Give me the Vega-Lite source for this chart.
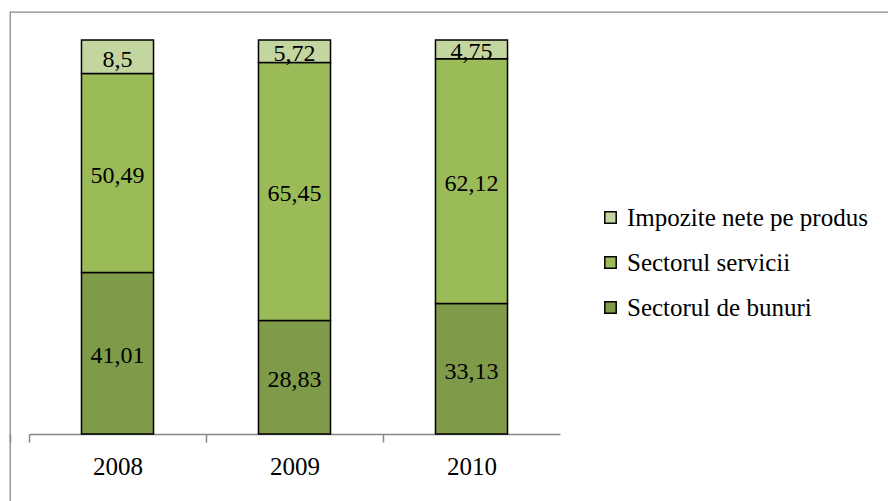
{
  "$schema": "https://vega.github.io/schema/vega-lite/v6.json",
  "autosize": {"type": "none"},
  "padding": {"left": 10, "top": 12, "right": -2, "bottom": -2},
  "width": 880,
  "height": 491,
  "background": "white",
  "config": {
    "view": {"stroke": "#898989", "strokeWidth": 1.3},
    "font": "Liberation Serif"
  },
  "data": {
    "values": [
      {"year": "2008", "category": "Sectorul de bunuri", "ord": 1, "value": 41.01, "label": "41,01"},
      {"year": "2008", "category": "Sectorul servicii", "ord": 2, "value": 50.49, "label": "50,49"},
      {"year": "2008", "category": "Impozite nete pe produs", "ord": 3, "value": 8.5, "label": "8,5"},
      {"year": "2009", "category": "Sectorul de bunuri", "ord": 1, "value": 28.83, "label": "28,83"},
      {"year": "2009", "category": "Sectorul servicii", "ord": 2, "value": 65.45, "label": "65,45"},
      {"year": "2009", "category": "Impozite nete pe produs", "ord": 3, "value": 5.72, "label": "5,72"},
      {"year": "2010", "category": "Sectorul de bunuri", "ord": 1, "value": 33.13, "label": "33,13"},
      {"year": "2010", "category": "Sectorul servicii", "ord": 2, "value": 62.12, "label": "62,12"},
      {"year": "2010", "category": "Impozite nete pe produs", "ord": 3, "value": 4.75, "label": "4,75"}
    ]
  },
  "transform": [
    {"stack": "value", "groupby": ["year"], "sort": [{"field": "ord", "order": "ascending"}], "as": ["v0", "v1"]},
    {"calculate": "(datum.v0 + datum.v1) / 2", "as": "mid"}
  ],
  "encoding": {
    "x": {
      "field": "year",
      "type": "nominal",
      "sort": ["2008", "2009", "2010"],
      "scale": {"range": [19, 550], "paddingInner": 0.593, "paddingOuter": 0.2965},
      "axis": {
        "title": null,
        "labelAngle": 0,
        "labelFont": "Liberation Serif",
        "labelFontSize": 25,
        "labelColor": "black",
        "labelPadding": 12,
        "ticks": true,
        "bandPosition": 0,
        "tickExtra": true,
        "tickOffset": -52.5,
        "labelOffset": 52.5,
        "tickSize": 8,
        "tickColor": "#868686",
        "tickWidth": 1.5,
        "domainColor": "#868686",
        "domainWidth": 1.5,
        "grid": false,
        "offset": -69
      }
    }
  },
  "layer": [
    {
      "mark": {"type": "bar", "stroke": "black", "strokeWidth": 1.5},
      "encoding": {
        "y": {"field": "v1", "type": "quantitative", "scale": {"domain": [0, 100], "range": [422, 28]}, "axis": null},
        "y2": {"field": "v0"},
        "color": {
          "field": "category",
          "type": "nominal",
          "scale": {
            "domain": ["Impozite nete pe produs", "Sectorul servicii", "Sectorul de bunuri"],
            "range": ["#c4d6a0", "#9bbb59", "#7f9a48"]
          },
          "legend": {
            "title": null,
            "orient": "none",
            "legendX": 588,
            "legendY": 193,
            "symbolType": "square",
            "symbolSize": 130,
            "symbolStrokeColor": "black",
            "symbolStrokeWidth": 1.5,
            "symbolOpacity": 1,
            "labelFont": "Liberation Serif",
            "labelFontSize": 25,
            "labelColor": "black",
            "labelOffset": 4,
            "rowPadding": 19,
            "labelLimit": 400
          }
        }
      }
    },
    {
      "mark": {"type": "text", "font": "Liberation Serif", "fontSize": 24, "color": "black", "baseline": "middle", "dy": 3},
      "encoding": {
        "y": {"field": "mid", "type": "quantitative", "scale": {"domain": [0, 100], "range": [422, 28]}, "axis": null},
        "text": {"field": "label"}
      }
    }
  ]
}
